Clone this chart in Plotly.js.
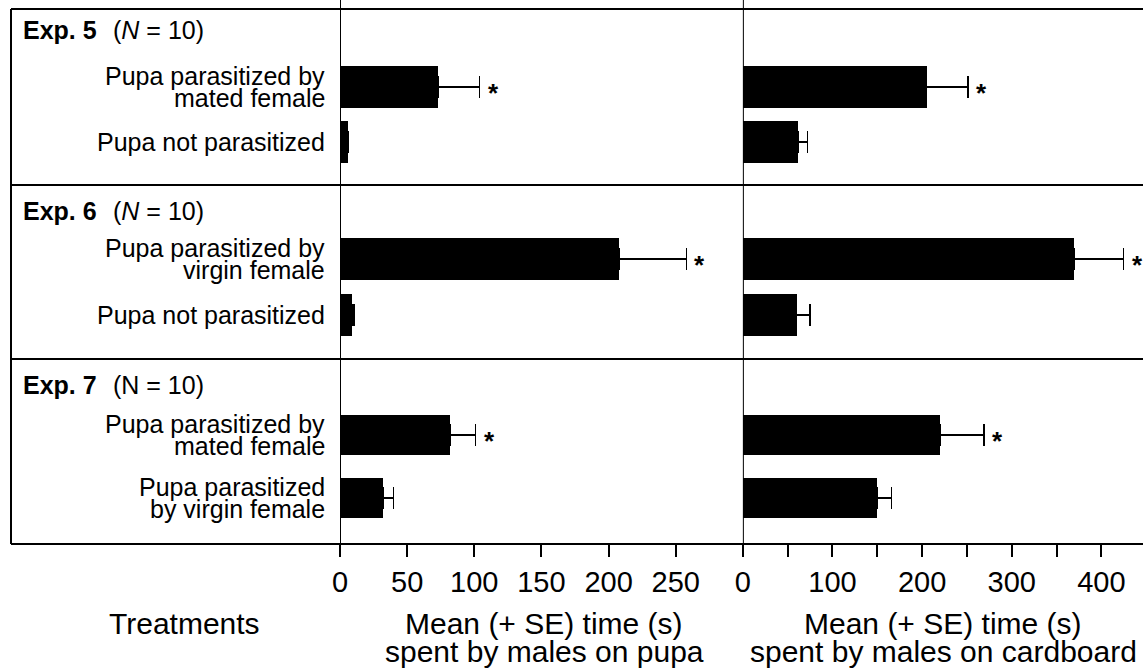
<!DOCTYPE html>
<html><head><meta charset="utf-8">
<script src="https://cdn.plot.ly/plotly-3.0.1.min.js"></script>
<style>html,body{margin:0;padding:0;background:#fff}</style></head>
<body><div id="chart" style="width:1143px;height:671px"></div>
<script>
// ---- data ----
const experiments = ["Exp. 5", "Exp. 6", "Exp. 7"];
const sampleSizes = ["(<i>N</i> = 10)", "(<i>N</i> = 10)", "(N = 10)"];
const treatments5 = ["Pupa parasitized by<br>mated female", "Pupa not parasitized"];
const treatments6 = ["Pupa parasitized by<br>virgin female", "Pupa not parasitized"];
const treatments7 = ["Pupa parasitized by<br>mated female", "Pupa parasitized<br>by virgin female"];
const pupaMean5 = [73, 6];    const pupaSE5 = [31, 0.5];
const pupaMean6 = [208, 9];   const pupaSE6 = [50, 1.5];
const pupaMean7 = [82, 32];   const pupaSE7 = [19, 8];
const cardMean5 = [205, 62];  const cardSE5 = [46, 10];
const cardMean6 = [370, 60];  const cardSE6 = [55, 15];
const cardMean7 = [220, 150]; const cardSE7 = [49, 16];
const significant5 = [true, false];
const significant6 = [true, false];
const significant7 = [true, false];
const pupaTicks = [0, 50, 100, 150, 200, 250];
const cardTicks = [0, 50, 100, 150, 200, 250, 300, 350, 400];
const cardTickText = ["0", "", "100", "", "200", "", "300", "", "400"];
const xTitleLeft = "Treatments";
const xTitlePupa = ["Mean (+ SE) time (s)", "spent by males on pupa"];
const xTitleCard = ["Mean (+ SE) time (s)", "spent by males on cardboard"];

// ---- layout helpers ----
const FONT = "Liberation Sans, Arial, Helvetica, sans-serif";
const W = 1143, H = 671, ML = 340, MT = 9, MB = 127;
const PW = W - ML, PH = H - MT - MB;
const px2paperX = p => (p - ML) / PW;
const px2paperY = p => (H - MB - p) / PH;

const treatments = [treatments5, treatments6, treatments7];
const pupaMean = [pupaMean5, pupaMean6, pupaMean7];
const pupaSE = [pupaSE5, pupaSE6, pupaSE7];
const cardMean = [cardMean5, cardMean6, cardMean7];
const cardSE = [cardSE5, cardSE6, cardSE7];
const significant = [significant5, significant6, significant7];

const yids = ["y", "y2", "y3"];
const ykeys = ["yaxis", "yaxis2", "yaxis3"];
const panelPx = [[9, 185], [185, 359], [359, 544]];
const yRanges = [[1.782, -1.418], [1.786, -1.321], [1.73, -1.206]];
const barW = [0.76, 0.76, 0.65];
const headerOffset = [21, 26, 26];
const lineGap = 22;
const labelSize = 25;

const traces = [];
const annotations = [];

function errX(se) {
  return {type: "data", array: se, arrayminus: se.map(() => 0), symmetric: false,
          color: "#000", thickness: 1.5, width: 11};
}

for (let e = 0; e < 3; e++) {
  const ys = treatments[e].map((_, i) => i);
  traces.push({type: "bar", orientation: "h", x: pupaMean[e], y: ys, xaxis: "x", yaxis: yids[e],
    width: barW[e], marker: {color: "#000", line: {width: 0}}, error_x: errX(pupaSE[e]),
    hoverinfo: "x", showlegend: false});
  traces.push({type: "bar", orientation: "h", x: cardMean[e], y: ys, xaxis: "x2", yaxis: yids[e],
    width: barW[e], marker: {color: "#000", line: {width: 0}}, error_x: errX(cardSE[e]),
    hoverinfo: "x", showlegend: false});

  // header
  annotations.push({xref: "paper", x: px2paperX(21), xanchor: "left", yref: yids[e] + " domain", y: 1,
    yanchor: "middle", yshift: -headerOffset[e], text: "<b>" + experiments[e] + "</b>", showarrow: false,
    font: {family: FONT, size: labelSize, color: "#000"}});
  annotations.push({xref: "paper", x: px2paperX(111), xanchor: "left", yref: yids[e] + " domain", y: 1,
    yanchor: "middle", yshift: -headerOffset[e], text: sampleSizes[e], showarrow: false,
    font: {family: FONT, size: labelSize, color: "#000"}});

  // treatment labels
  treatments[e].forEach((lab, i) => {
    const lines = lab.split("<br>");
    lines.forEach((ln, j) => {
      annotations.push({xref: "paper", x: 0, xanchor: "right", xshift: -13, yref: yids[e], y: i,
        yanchor: "middle", yshift: -((j - (lines.length - 1) / 2) * lineGap), text: ln, showarrow: false,
        font: {family: FONT, size: labelSize, color: "#000"}});
    });
    if (significant[e][i]) {
      annotations.push({xref: "x", x: pupaMean[e][i] + pupaSE[e][i], xanchor: "left", xshift: 6,
        yref: yids[e], y: i, yanchor: "middle", yshift: -6, text: "<b>*</b>", showarrow: false,
        font: {family: FONT, size: 26, color: "#000"}});
      annotations.push({xref: "x2", x: cardMean[e][i] + cardSE[e][i], xanchor: "left", xshift: 6,
        yref: yids[e], y: i, yanchor: "middle", yshift: -6, text: "<b>*</b>", showarrow: false,
        font: {family: FONT, size: 26, color: "#000"}});
    }
  });
}

// bottom titles
const titleFont = {family: FONT, size: 30, color: "#000"};
annotations.push({xref: "paper", x: px2paperX(184), yref: "paper", y: px2paperY(623), xanchor: "center",
  yanchor: "middle", text: xTitleLeft, showarrow: false, font: titleFont});
xTitlePupa.forEach((t, j) => annotations.push({xref: "paper", x: px2paperX(544), yref: "paper",
  y: px2paperY(623 + j * 28), xanchor: "center", yanchor: "middle", text: t, showarrow: false, font: titleFont}));
xTitleCard.forEach((t, j) => annotations.push({xref: "paper", x: px2paperX(943), yref: "paper",
  y: px2paperY(623 + j * 28), xanchor: "center", yanchor: "middle", text: t, showarrow: false, font: titleFont}));

// frame lines
const lineStyle = {color: "#000", width: 2};
const shapes = [];
const xl = px2paperX(11), xr = 1;
[9, 185, 359, 544].forEach(p => shapes.push({type: "line", xref: "paper", yref: "paper",
  x0: xl, x1: xr, y0: px2paperY(p), y1: px2paperY(p), line: lineStyle}));
shapes.push({type: "line", xref: "paper", yref: "paper", x0: xl, x1: xl, y0: px2paperY(9), y1: px2paperY(544), line: lineStyle});
shapes.push({type: "line", xref: "x", yref: "paper", x0: 0, x1: 0, y0: px2paperY(556), y1: px2paperY(0), line: lineStyle});
shapes.push({type: "line", xref: "x2", yref: "paper", x0: 0, x1: 0, y0: px2paperY(556), y1: px2paperY(0), line: lineStyle});

const xSplit = 0.5017;
const tickFont = {family: FONT, size: 29, color: "#000"};
const layout = {
  width: W, height: H, margin: {l: ML, r: 0, t: MT, b: MB},
  paper_bgcolor: "#fff", plot_bgcolor: "#fff", showlegend: false,
  font: {family: FONT, color: "#000"},
  bargap: 0,
  xaxis: {domain: [0, xSplit], range: [0, 300], anchor: "y3", tickvals: pupaTicks, ticks: "outside",
    ticklen: 12, tickwidth: 2, tickcolor: "#000", showgrid: false, zeroline: false, showline: false,
    tickfont: tickFont, fixedrange: true},
  xaxis2: {domain: [xSplit, 1], range: [0, 446.5], anchor: "y3", tickvals: cardTicks, ticktext: cardTickText,
    ticks: "outside", ticklen: 12, tickwidth: 2, tickcolor: "#000", showgrid: false, zeroline: false,
    showline: false, tickfont: tickFont, fixedrange: true},
  annotations: annotations,
  shapes: shapes
};
for (let e = 0; e < 3; e++) {
  layout[ykeys[e]] = {domain: [px2paperY(panelPx[e][1]), px2paperY(panelPx[e][0])], range: yRanges[e],
    anchor: "x", showticklabels: false, ticks: "", showgrid: false, zeroline: false, showline: false,
    fixedrange: true};
}
Plotly.newPlot("chart", traces, layout, {displayModeBar: false, staticPlot: true});
</script>
</body></html>
